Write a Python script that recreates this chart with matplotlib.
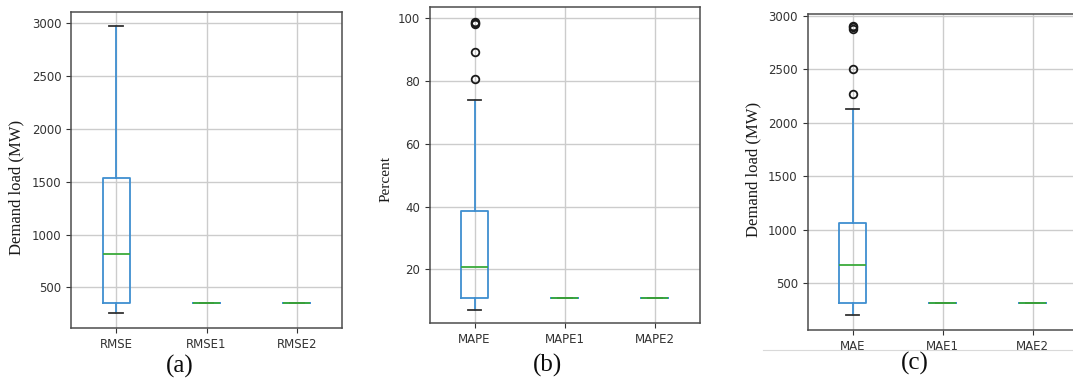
"""
Box plots of forecast error metrics (RMSE, MAPE, MAE) for three model variants.
"""

import matplotlib
matplotlib.use("Agg")
import matplotlib.pyplot as plt
from matplotlib.lines import Line2D

# ---- data ---------------------------------------------------------------
rmse_labels = ["RMSE", "RMSE1", "RMSE2"]
rmse_q1 = [349, 355, 355]
rmse_med = [815, 355, 355]
rmse_q3 = [1538, 355, 355]
rmse_lo = [254, 355, 355]
rmse_hi = [2977, 355, 355]
rmse_fliers = [[], [], []]

mape_labels = ["MAPE", "MAPE1", "MAPE2"]
mape_q1 = [10.8, 11.0, 11.0]
mape_med = [20.8, 11.0, 11.0]
mape_q3 = [38.5, 11.0, 11.0]
mape_lo = [7.2, 11.0, 11.0]
mape_hi = [74.0, 11.0, 11.0]
mape_fliers = [[98.2, 98.6, 98.9, 89.3, 80.7], [], []]

mae_labels = ["MAE", "MAE1", "MAE2"]
mae_q1 = [313, 319, 319]
mae_med = [671, 319, 319]
mae_q3 = [1066, 319, 319]
mae_lo = [204, 319, 319]
mae_hi = [2129, 319, 319]
mae_fliers = [[2880, 2893, 2905, 2502, 2269], [], []]

SERIF = ["Liberation Serif", "DejaVu Serif"]
BLUE = "#3f8fd0"
GREEN = "#3aaa3a"


def _stats(labels, q1, med, q3, lo, hi, fliers):
    return [dict(label=l, q1=a, med=m, q3=b, whislo=w0, whishi=w1, fliers=f)
            for l, a, m, b, w0, w1, f in zip(labels, q1, med, q3, lo, hi, fliers)]


def _panel(fig, rect, stats, ylim, yticks, ylabel, ylab_size, ylab_xy, tag, tag_xy):
    ax = fig.add_axes(rect)
    ax.bxp(stats, positions=[1, 2, 3], widths=0.3, showfliers=True,
           boxprops=dict(color=BLUE, lw=1.3),
           whiskerprops=dict(color=BLUE, lw=1.3),
           capprops=dict(color="0.2", lw=1.3),
           medianprops=dict(color=GREEN, lw=1.3),
           flierprops=dict(marker="o", mfc="none", mec="0.1", ms=5.5, mew=1.3))
    ax.set_xlim(0.5, 3.5)
    ax.set_ylim(*ylim)
    ax.set_yticks(yticks)
    ax.grid(True, color="0.8", lw=1.0)
    ax.set_axisbelow(True)
    ax.tick_params(labelsize=8.5, colors="0.2", length=3.5)
    for s in ax.spines.values():
        s.set_color("0.3")
        s.set_linewidth(1.1)
    fig.text(ylab_xy[0] / 1073, 1 - ylab_xy[1] / 383, ylabel, rotation=90,
             ha="center", va="center", family=SERIF, fontsize=ylab_size, color="0.1")
    fig.text(tag_xy[0] / 1073, 1 - tag_xy[1] / 383, tag, ha="center", va="center",
             family=SERIF, fontsize=18, color="0.05")
    return ax


fig = plt.figure(figsize=(10.73, 3.83), dpi=100)

_panel(fig, [71 / 1073, 55 / 383, 271 / 1073, 316 / 383],
       _stats(rmse_labels, rmse_q1, rmse_med, rmse_q3, rmse_lo, rmse_hi, rmse_fliers),
       (115, 3107), [500, 1000, 1500, 2000, 2500, 3000],
       "Demand load (MW)", 12, (16, 187), "(a)", (180, 366))

_panel(fig, [429.5 / 1073, 60 / 383, 270.5 / 1073, 315.7 / 383],
       _stats(mape_labels, mape_q1, mape_med, mape_q3, mape_lo, mape_hi, mape_fliers),
       (2.9, 103.5), [20, 40, 60, 80, 100],
       "Percent", 11, (386, 179), "(b)", (547, 365))

_panel(fig, [807.5 / 1073, 53 / 383, 270 / 1073, 316 / 383],
       _stats(mae_labels, mae_q1, mae_med, mae_q3, mae_lo, mae_hi, mae_fliers),
       (64, 3016), [500, 1000, 1500, 2000, 2500, 3000],
       "Demand load (MW)", 12, (753, 169), "(c)", (915, 363))

# faint rule under panel (c), as in the source image
fig.add_artist(Line2D([763 / 1073, 1.0], [1 - 350 / 383] * 2, color="0.85", lw=0.8))

fig.savefig("out.png", dpi=100)
plt.close(fig)
